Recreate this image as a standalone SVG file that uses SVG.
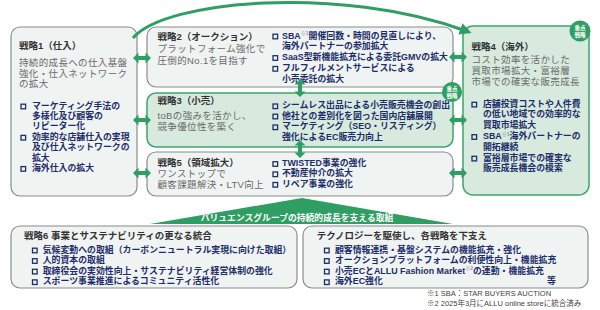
<svg xmlns="http://www.w3.org/2000/svg" width="600" height="310" viewBox="0 0 600 310">
<defs>
<style>
text{font-family:"Liberation Sans","Noto Sans CJK JP",sans-serif;}
.box{fill:#eff3f1;stroke:#8c8c8c;stroke-width:1.2;}
.gbox{fill:#d7eadd;stroke:#3ea56c;stroke-width:1.5;}
.t{font-size:9.5px;font-weight:700;fill:#333;letter-spacing:0;}
.s{font-size:9.5px;font-weight:400;fill:#6a6a6a;letter-spacing:0.35px;}
.b{font-size:8.9px;font-weight:700;fill:#1d2d6b;letter-spacing:0;}
.sq{fill:none;stroke:#1d2d6b;stroke-width:1.3;}
.sup{font-size:5px;fill:#8a94b0;}
.ar{fill:#2f9e63;}
.badge{fill:#2f9e63;}
.bt{font-size:5.6px;fill:#fff;font-weight:700;text-anchor:middle;}
.fn{font-size:7.5px;fill:#444;}
</style>
<path id="dh" d="M-9,0 L-3.5,-5.5 L-3.5,-2 L3.5,-2 L3.5,-5.5 L9,0 L3.5,5.5 L3.5,2 L-3.5,2 L-3.5,5.5 Z"/>
<rect id="q" x="0" y="-4.3" width="4.6" height="4.6"/>
<marker id="ah" viewBox="0 0 10 10" refX="5" refY="5" markerWidth="4" markerHeight="4" orient="auto" markerUnits="strokeWidth">
<path d="M0,0 L10,5 L0,10 Z" fill="#2f9e63"/>
</marker>
</defs>

<g id="s1">
<rect class="box" x="11" y="27" width="126" height="169" rx="9"/>
<text class="t" x="19" y="49">戦略1（仕入）<tspan class="s" x="19" y="65.5">持続的成長への仕入基盤</tspan><tspan class="s" x="19" y="76.5">強化・仕入ネットワーク</tspan><tspan class="s" x="19" y="87">の拡大</tspan></text>
<use href="#q" class="sq" x="21" y="108.5"/>
<use href="#q" class="sq" x="21" y="139.7"/>
<use href="#q" class="sq" x="21" y="170.9"/>
<text class="b"><tspan x="32" y="108.5">マーケティング手法の</tspan><tspan x="32" y="118.9">多様化及び顧客の</tspan><tspan x="32" y="129.3">リピーター化</tspan><tspan x="32" y="139.7">効率的な店舗仕入の実現</tspan><tspan x="32" y="150.1">及び仕入ネットワークの</tspan><tspan x="32" y="160.5">拡大</tspan><tspan x="32" y="170.9">海外仕入の拡大</tspan></text>
</g>

<g id="s2">
<rect class="box" x="147" y="27" width="306" height="60" rx="9"/>
<text class="t" x="157.5" y="39.5">戦略2（オークション）<tspan class="s" x="157.5" y="51.8">プラットフォーム強化で</tspan><tspan class="s" x="157.5" y="63.5">圧倒的No.1を目指す</tspan></text>
<use href="#q" class="sq" x="273" y="38.5"/>
<use href="#q" class="sq" x="273" y="60"/>
<use href="#q" class="sq" x="273" y="70.8"/>
<text class="b"><tspan x="282" y="38.5">SBA</tspan><tspan class="sup" dy="-3.5">※1</tspan><tspan dy="3.5">開催回数・時間の見直しにより、</tspan><tspan x="282" y="49">海外パートナーの参加拡大</tspan><tspan x="282" y="60">SaaS型新機能拡充による委託GMVの拡大</tspan><tspan x="282" y="70.8">フルフィルメントサービスによる</tspan><tspan x="282" y="81.5">小売委託の拡大</tspan></text>
</g>

<g id="s3">
<rect class="gbox" x="147" y="93" width="306" height="54" rx="9"/>
<text class="t" x="157.5" y="103.5">戦略3（小売）<tspan class="s" x="157.5" y="118.5">toBの強みを活かし、</tspan><tspan class="s" x="157.5" y="129.5">競争優位性を築く</tspan></text>
<use href="#q" class="sq" x="273" y="108.3"/>
<use href="#q" class="sq" x="273" y="118.5"/>
<use href="#q" class="sq" x="273" y="129.3"/>
<text class="b"><tspan x="282" y="108.3">シームレス出品による小売販売機会の創出</tspan><tspan x="282" y="118.5">他社との差別化を図った国内店舗展開</tspan><tspan x="282" y="129.3">マーケティング（SEO・リスティング）</tspan><tspan x="282" y="139.5">強化によるEC販売力向上</tspan></text>
<circle class="badge" cx="452" cy="92" r="10"/>
<text class="bt" x="452" y="90.5">重点<tspan x="452" y="97.5">戦略</tspan></text>
</g>

<g id="s5">
<rect class="box" x="147" y="152" width="306" height="44" rx="9"/>
<text class="t" x="157.5" y="166">戦略5（領域拡大）<tspan class="s" x="157.5" y="177">ワンストップで</tspan><tspan class="s" x="157.5" y="187.8">顧客課題解決・LTV向上</tspan></text>
<use href="#q" class="sq" x="273" y="166"/>
<use href="#q" class="sq" x="273" y="176.3"/>
<use href="#q" class="sq" x="273" y="186.8"/>
<text class="b"><tspan x="282" y="166">TWISTED事業の強化</tspan><tspan x="282" y="176.3">不動産仲介の拡大</tspan><tspan x="282" y="186.8">リペア事業の強化</tspan></text>
</g>

<g id="s4">
<rect class="gbox" x="463" y="26" width="126" height="169" rx="10"/>
<circle class="badge" cx="580" cy="31" r="10.5"/>
<text class="bt" x="580" y="29.5">重点<tspan x="580" y="36.5">戦略</tspan></text>
<text class="t" x="471.5" y="50.3">戦略4（海外）<tspan class="s" x="471.5" y="62.9">コスト効率を活かした</tspan><tspan class="s" x="471.5" y="74.3">買取市場拡大・富裕層</tspan><tspan class="s" x="471.5" y="85.3">市場での確実な販売成長</tspan></text>
<use href="#q" class="sq" x="472" y="106.6"/>
<use href="#q" class="sq" x="472" y="139"/>
<use href="#q" class="sq" x="472" y="160.6"/>
<text class="b"><tspan x="483" y="106.6">店舗投資コストや人件費</tspan><tspan x="483" y="117.4">の低い地域での効率的な</tspan><tspan x="483" y="128.2">買取市場拡大</tspan><tspan x="483" y="139">SBA</tspan><tspan class="sup" dy="-3.5">※1</tspan><tspan dy="3.5">海外パートナーの</tspan><tspan x="483" y="149.8">開拓継続</tspan><tspan x="483" y="160.6">富裕層市場での確実な</tspan><tspan x="483" y="171.4">販売成長機会の模索</tspan></text>
</g>

<g id="base">
<polygon points="302,198 453,224 150,224" fill="#2f9e63"/>
<text x="297" y="221" text-anchor="middle" font-size="8.8" font-weight="700" fill="#fff">バリュエンスグループの持続的成長を支える取組</text>
</g>

<g id="s6">
<rect class="box" x="11" y="226" width="286" height="62" rx="9"/>
<use href="#q" class="sq" x="32.5" y="252.5"/>
<use href="#q" class="sq" x="32.5" y="263"/>
<use href="#q" class="sq" x="32.5" y="273.6"/>
<use href="#q" class="sq" x="32.5" y="284.2"/>
<text class="t" x="24" y="238.5">戦略6  事業とサステナビリティの更なる統合<tspan class="b" x="42.7" y="252.5">気候変動への取組（カーボンニュートラル実現に向けた取組）</tspan><tspan class="b" x="42.7" y="263">人的資本の取組</tspan><tspan class="b" x="42.7" y="273.6">取締役会の実効性向上・サステナビリティ経営体制の強化</tspan><tspan class="b" x="42.7" y="284.2">スポーツ事業推進によるコミュニティ活性化</tspan></text>
</g>

<g id="s7">
<rect class="box" x="303" y="226" width="285" height="62" rx="9"/>
<use href="#q" class="sq" x="324.5" y="252.5"/>
<use href="#q" class="sq" x="324.5" y="263"/>
<use href="#q" class="sq" x="324.5" y="273.6"/>
<use href="#q" class="sq" x="324.5" y="284.2"/>
<text class="t" x="316.7" y="238.5">テクノロジーを駆使し、各戦略を下支え<tspan class="b" x="335" y="252.5">顧客情報連携・基盤システムの機能拡充・強化</tspan><tspan class="b" x="335" y="263">オークションプラットフォームの利便性向上・機能拡充</tspan><tspan class="b" x="335" y="273.6">小売ECとALLU Fashion Market</tspan><tspan class="sup" dy="-3.5">※2</tspan><tspan class="b" dy="3.5">の連動・機能拡充</tspan><tspan class="b" x="335" y="284.2">海外EC強化</tspan><tspan class="b" x="547" y="284.2">等</tspan></text>
</g>

<g id="notes">
<text class="fn" x="427" y="296">※1 SBA：STAR BUYERS AUCTION<tspan x="427" y="306">※2 2025年3月にALLU online storeに統合済み</tspan></text>
</g>

<g id="connectors">
<path d="M133,38 C165,0 340,-15 466,31" fill="none" stroke="#2f9e63" stroke-width="3" marker-end="url(#ah)"/>
<use href="#dh" class="ar" transform="translate(142,58)"/>
<use href="#dh" class="ar" transform="translate(142,120)"/>
<use href="#dh" class="ar" transform="translate(142,173)"/>
<use href="#dh" class="ar" transform="translate(458,57)"/>
<use href="#dh" class="ar" transform="translate(458,120)"/>
<use href="#dh" class="ar" transform="translate(458,173)"/>
<use href="#dh" class="ar" transform="translate(300,88) rotate(90)"/>
<use href="#dh" class="ar" transform="translate(300,149) rotate(90)"/>
</g>
</svg>
